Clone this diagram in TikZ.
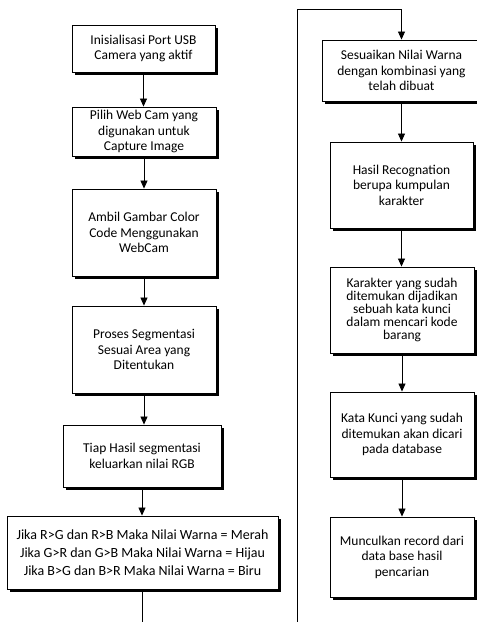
\documentclass[tikz,border=0pt]{standalone}
\usepackage{fontspec}
\setmainfont{Carlito}
\usetikzlibrary{arrows.meta,shadows}
\begin{document}
\begin{tikzpicture}[x=1pt,y=-1pt,
  box/.style={draw=black,line width=0.9pt,fill=white,align=center,inner sep=0pt,
    font=\fontsize{13.5}{15.5}\selectfont,
    drop shadow={shadow xshift=2.8pt,shadow yshift=-2.8pt,opacity=1,fill=black}},
  arr/.style={-{Triangle[length=8pt,width=7pt]},line width=0.8pt},
  ln/.style={line width=0.8pt}]
\useasboundingbox (0,0) rectangle (477,622);
\begin{scope}
\clip (0,0) rectangle (477,622);
% left column
\node[box,minimum width=143pt,minimum height=47pt] (b1) at (143.5,48.5)
  {Inisialisasi Port USB\\Camera yang aktif};
\node[box,minimum width=144pt,minimum height=49pt] (b2) at (144,131.5)
  {Pilih Web Cam yang\\digunakan untuk\\Capture Image};
\node[box,minimum width=144pt,minimum height=87pt] (b3) at (144,232.5)
  {Ambil Gambar Color\\Code Menggunakan\\WebCam};
\node[box,minimum width=144pt,minimum height=87pt] (b4) at (144,349.5)
  {Proses Segmentasi\\Sesuai Area yang\\Ditentukan};
\node[box,minimum width=158pt,minimum height=62pt] (b5) at (142,456)
  {Tiap Hasil segmentasi\\keluarkan nilai RGB};
\node[box,minimum width=271pt,minimum height=73pt,font=\fontsize{14}{18}\selectfont] (b6) at (142.5,552.5)
  {Jika R>G dan R>B Maka Nilai Warna = Merah\\Jika G>R dan G>B Maka Nilai Warna = Hijau\\Jika B>G dan B>R Maka Nilai Warna = Biru};
% right column
\node[box,minimum width=159pt,minimum height=61pt] (b7) at (401.5,70.5)
  {Sesuaikan Nilai Warna\\dengan kombinasi yang\\telah dibuat};
\node[box,minimum width=143pt,minimum height=86pt] (b8) at (401.5,185)
  {Hasil Recognation\\berupa kumpulan\\karakter};
\node[box,minimum width=144pt,minimum height=86pt,font=\fontsize{13.5}{13}\selectfont] (b9) at (402,310)
  {Karakter yang sudah\\ditemukan dijadikan\\sebuah kata kunci\\dalam mencari kode\\barang};
\node[box,minimum width=144pt,minimum height=85pt] (b10) at (402,434.5)
  {Kata Kunci yang sudah\\ditemukan akan dicari\\pada database};
\node[box,minimum width=144pt,minimum height=80pt] (b11) at (402,557)
  {Munculkan record dari\\data base hasil\\pencarian};
% connectors
\draw[arr] (b1.south) -- (b1.south |- b2.north);
\draw[arr] (b2.south) -- (b2.south |- b3.north);
\draw[arr] (b3.south) -- (b3.south |- b4.north);
\draw[arr] (b4.south) -- (b4.south |- b5.north);
\draw[arr] (b5.south) -- (b5.south |- b6.north);
\coordinate (e1) at (143,626);
\coordinate (e2) at (297,626);
\coordinate (t1) at (297,9);
\draw[ln] (b6.south) -- (b6.south |- e1);
\draw[arr] (e2) -- (t1) -| (b7.north);
\draw[arr] (b7.south) -- (b7.south |- b8.north);
\draw[arr] (b8.south) -- (b8.south |- b9.north);
\draw[arr] (b9.south) -- (b9.south |- b10.north);
\draw[arr] (b10.south) -- (b10.south |- b11.north);
\end{scope}
\end{tikzpicture}
\end{document}
